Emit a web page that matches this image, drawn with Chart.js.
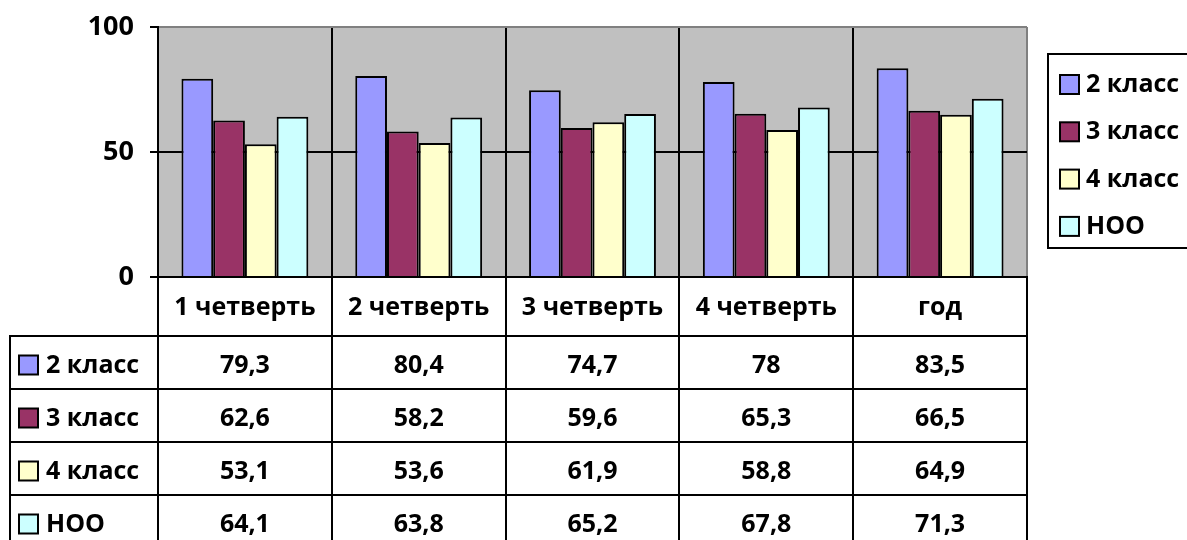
<!DOCTYPE html>
<html lang="ru">
<head>
    <meta charset="UTF-8">
    <title>Успеваемость</title>
    <script src="https://cdn.jsdelivr.net/npm/chart.js"></script>
    <style>
        html, body { margin: 0; padding: 0; background: #fff; }
        canvas { display: block; }
    </style>
</head>
<body>
    <canvas id="chart" width="1187" height="540"></canvas>

    <script>
        // data
        const categories = ['1 четверть', '2 четверть', '3 четверть', '4 четверть', 'год'];
        const seriesNames = ['2 класс', '3 класс', '4 класс', 'НОО'];
        const class2 = [79.3, 80.4, 74.7, 78, 83.5];
        const class3 = [62.6, 58.2, 59.6, 65.3, 66.5];
        const class4 = [53.1, 53.6, 61.9, 58.8, 64.9];
        const noo = [64.1, 63.8, 65.2, 67.8, 71.3];
        const yTicks = [0, 50, 100];
        const colors = ['#9999FF', '#993366', '#FFFFCC', '#CCFFFF'];

        const FONT = "'Open Sans', 'DejaVu Sans', sans-serif";
        const allSeries = [class2, class3, class4, noo];

        // table + legend + plot background
        const tablePlugin = {
            id: 'tablePlugin',
            beforeDraw(chart) {
                const a = chart.chartArea, c = chart.ctx;
                c.save();
                c.fillStyle = '#C0C0C0';
                c.fillRect(a.left, a.top, a.right - a.left, a.bottom - a.top);
                c.restore();
            },
            afterDraw(chart) {
                const a = chart.chartArea, c = chart.ctx;
                const xs = chart.scales.x;
                const step = xs.getPixelForValue(1) - xs.getPixelForValue(0);
                const headerH = 59, rowH = 53, leftX = 10;
                const bottom = chart.height;

                c.save();
                c.strokeStyle = '#000';
                c.lineWidth = 2;
                c.font = 'bold 25px ' + FONT;
                c.fillStyle = '#000';
                c.textBaseline = 'middle';

                // vertical lines of table
                for (let i = 0; i <= categories.length; i++) {
                    const x = Math.round(xs.getPixelForValue(0) - step / 2 + i * step);
                    c.beginPath();
                    c.moveTo(x, a.bottom);
                    c.lineTo(x, bottom);
                    c.stroke();
                }
                c.beginPath();
                c.moveTo(leftX, a.bottom + headerH);
                c.lineTo(leftX, bottom);
                c.stroke();

                // horizontal lines
                for (let r = 0; r < seriesNames.length; r++) {
                    const y = a.bottom + headerH + r * rowH;
                    c.beginPath();
                    c.moveTo(leftX - 1, y);
                    c.lineTo(a.right + 1, y);
                    c.stroke();
                }

                // header
                c.textAlign = 'center';
                categories.forEach((cat, i) => {
                    c.fillText(cat, xs.getPixelForValue(i), a.bottom + headerH / 2 + 1);
                });

                // rows
                allSeries.forEach((vals, r) => {
                    const cy = a.bottom + headerH + r * rowH + rowH / 2 + 3;
                    c.fillStyle = colors[r];
                    c.fillRect(19, cy - 10, 19, 19);
                    c.strokeRect(19, cy - 10, 19, 19);
                    c.fillStyle = '#000';
                    c.textAlign = 'left';
                    c.fillText(seriesNames[r], 46, cy);
                    c.textAlign = 'center';
                    vals.forEach((v, i) => {
                        c.fillText(String(v).replace('.', ','), xs.getPixelForValue(i), cy);
                    });
                });

                // legend
                c.fillStyle = '#fff';
                c.fillRect(1048, 54, 150, 194);
                c.strokeRect(1048, 54, 150, 194);
                seriesNames.forEach((name, r) => {
                    const cy = 85 + r * 47.3;
                    c.fillStyle = colors[r];
                    c.fillRect(1060, cy - 10, 19, 19);
                    c.strokeRect(1060, cy - 10, 19, 19);
                    c.fillStyle = '#000';
                    c.textAlign = 'left';
                    c.fillText(name, 1086, cy);
                });
                c.restore();
            }
        };

        const ctx = document.getElementById('chart').getContext('2d');
        new Chart(ctx, {
            type: 'bar',
            data: {
                labels: categories,
                datasets: seriesNames.map((name, i) => ({
                    label: name,
                    data: allSeries[i],
                    backgroundColor: colors[i],
                    borderColor: '#000',
                    borderWidth: 2,
                    categoryPercentage: 0.73,
                    barPercentage: 1
                }))
            },
            options: {
                responsive: false,
                animation: false,
                layout: { padding: { left: 0, top: 27, right: 160, bottom: 263 } },
                plugins: {
                    legend: { display: false },
                    tooltip: { enabled: false }
                },
                scales: {
                    x: {
                        afterFit(scale) { scale.height = 0; },
                        ticks: { display: false },
                        grid: {
                            offset: true,
                            drawTicks: false,
                            lineWidth: 2,
                            color: (ctx) => ctx.type === 'tick' ? '#000' : '#808080'
                        },
                        border: { color: '#000', width: 2 }
                    },
                    y: {
                        min: 0,
                        max: 100,
                        afterFit(scale) { scale.width = 158; },
                        afterBuildTicks(scale) { scale.ticks = yTicks.map(v => ({ value: v })); },
                        ticks: {
                            padding: 16,
                            color: '#000',
                            font: { family: FONT, size: 27, weight: 'bold', lineHeight: 0.6 }
                        },
                        grid: {
                            lineWidth: 2,
                            tickLength: 8,
                            tickColor: '#000',
                            color: (ctx) => ctx.tick && ctx.tick.value === 100 ? '#808080' : '#000'
                        },
                        border: { color: '#000', width: 2 }
                    }
                }
            },
            plugins: [tablePlugin]
        });
    </script>
</body>
</html>
